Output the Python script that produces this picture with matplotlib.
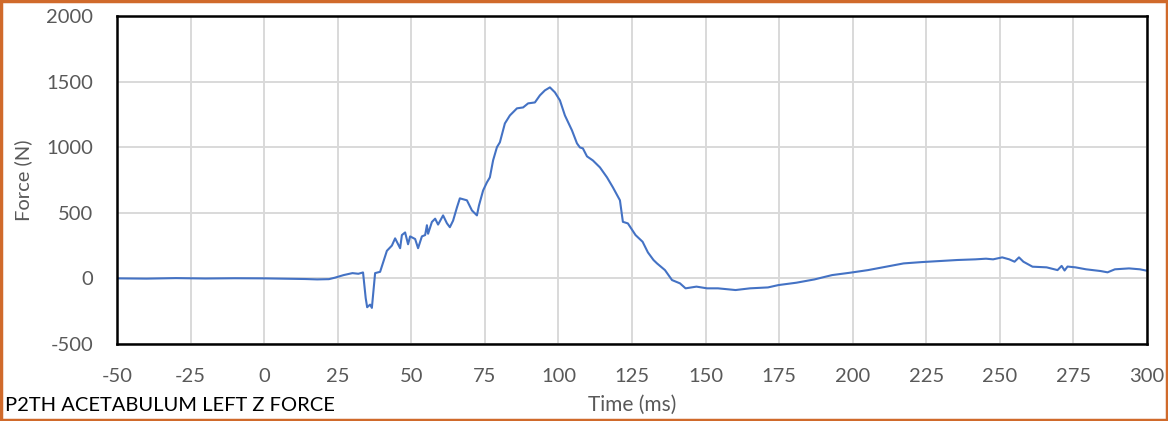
import matplotlib
matplotlib.use("Agg")
import matplotlib.pyplot as plt
from matplotlib.patches import Rectangle

# Time (ms) and force (N)
time_ms = [-50, -40, -30, -20, -10, 0, 10, 14, 18, 22, 24, 27, 30, 32, 33.6,
           34.5, 35.0, 36.0, 36.6, 37.7, 39.4, 40.4, 41.7, 43.4, 44.5, 45.5,
           46.2, 46.8, 47.9, 48.9, 49.6, 51.3, 52.3, 53.6, 54.7, 55.3, 55.7,
           57.0, 58.1, 59.1, 60.8, 62.1, 63.1, 64.2, 65.5, 66.5, 68.9, 70.6,
           72.3, 73.0, 74.4, 75.7, 76.7, 77.8, 79.1, 80.1, 81.8, 83.5, 85.9,
           88.0, 89.7, 92.0, 93.7, 95.4, 97.1, 98.8, 100.5, 102.2, 104.6,
           106.3, 107.3, 108.3, 109.7, 111.7, 114.1, 116.5, 118.5, 120.9,
           121.9, 123.6, 126.2, 128.6, 130.4, 132.3, 133.5, 136.2, 138.6,
           141.3, 143.2, 146.9, 150.5, 154.2, 160.2, 165.1, 171.2, 174.8,
           180.9, 187.0, 193.0, 199.1, 205.2, 211.3, 217.3, 223.4, 229.5,
           235.6, 241.7, 245.3, 247.7, 250.8, 253.2, 255.0, 256.5, 258.0,
           261.1, 265.9, 269.6, 271.0, 272.0, 273.0, 275.7, 279.3, 284.2,
           286.6, 289.1, 293.9, 297.6, 300.0]
force_n = [0, -2, 2, -1, 1, 0, -3, -5, -8, -6, 5, 25, 40, 35, 45,
           -150, -220, -200, -225, 40, 50, 120, 210, 250, 305, 260,
           230, 330, 350, 260, 320, 300, 230, 320, 330, 405, 340,
           430, 455, 410, 480, 420, 390, 440, 540, 610, 595, 518,
           480, 556, 670, 732, 770, 900, 1000, 1037, 1181, 1242, 1296,
           1303, 1334, 1341, 1395, 1433, 1456, 1418, 1357, 1242, 1128,
           1029, 998, 991, 930, 899, 846, 770, 694, 595,
           431, 419, 330, 279, 198, 140, 114, 63, -13,
           -38, -76, -63, -76, -76, -89, -76, -69, -51,
           -33, -8, 25, 43, 63, 89, 114, 124, 132,
           140, 145, 150, 145, 160, 145, 127, 160, 127,
           89, 84, 63, 95, 60, 90, 84, 69, 56,
           46, 69, 76, 69, 58]

x_ticks = list(range(-50, 301, 25))
y_ticks = list(range(-500, 2001, 500))

plt.rcParams['font.family'] = ['Lato', 'DejaVu Sans']
plt.rcParams['axes.unicode_minus'] = False

fig = plt.figure(figsize=(11.68, 4.21), dpi=100)
ax = fig.add_axes([0.1002, 0.183, 0.8818, 0.779])

ax.plot(time_ms, force_n, color='#4472C4', linewidth=1.5)

ax.set_xlim(-50, 300)
ax.set_ylim(-500, 2000)
ax.set_xticks(x_ticks)
ax.set_yticks(y_ticks)
ax.grid(True, color='#d9d9d9', linewidth=1.4)
ax.set_axisbelow(True)
ax.tick_params(length=0, labelsize=14.5, labelcolor='#595959')
ax.tick_params(axis='x', pad=17)
ax.tick_params(axis='y', pad=17)
for sp in ax.spines.values():
    sp.set_color('black')
    sp.set_linewidth(1.8)

ax.set_ylabel('Force (N)', fontsize=14.5, color='#595959', labelpad=10)
fig.text(0.5415, 0.038, 'Time (ms)', fontsize=15, color='#595959',
         ha='center', va='center')
fig.text(0.004, 0.038, 'P2TH ACETABULUM LEFT Z FORCE', fontsize=14.5,
         color='black', ha='left', va='center')

# orange frame around the whole figure
fig.patches.append(Rectangle((0.001, 0.002), 0.998, 0.996, transform=fig.transFigure,
                             fill=False, edgecolor='#D06A2B', linewidth=2.5))

fig.savefig('out.png', dpi=100)
